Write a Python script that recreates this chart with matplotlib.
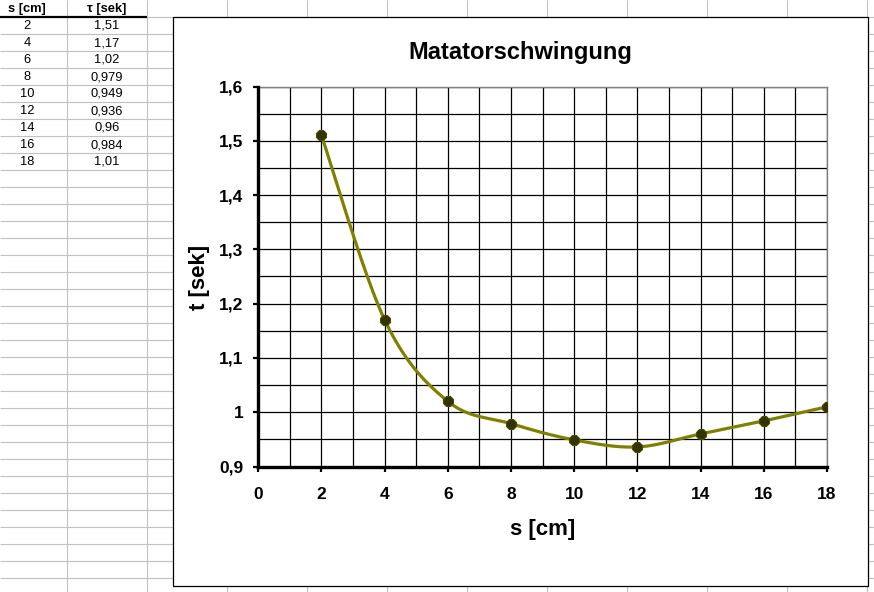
import numpy as np
import matplotlib
matplotlib.use("Agg")
import matplotlib.pyplot as plt
from matplotlib.patches import Rectangle

plt.rcParams['font.family'] = ['Liberation Sans', 'DejaVu Sans']

# measured values (table in the sheet)
s_cm = [2, 4, 6, 8, 10, 12, 14, 16, 18]
tau_sek = [1.51, 1.17, 1.02, 0.979, 0.949, 0.936, 0.96, 0.984, 1.01]
col_headers = ["s [cm]", "τ [sek]"]

title = "Matatorschwingung"
x_label = "s [cm]"
y_label = "t [sek]"
x_ticks = np.arange(0, 19, 2)
y_ticks = np.arange(0.9, 1.601, 0.1)

W, H = 874, 592
ROW_H = 17
GRID_C = "#c0c0c0"


def de(v):
    # German decimal comma
    return f"{v:g}".replace(".", ",")


def smooth(x, y, n=40):
    # Excel-like smoothed line: Catmull-Rom segments as cubic Bezier
    p = np.column_stack([x, y]).astype(float)
    ext = np.vstack([p[0], p, p[-1]])
    t = np.linspace(0, 1, n)[:, None]
    out = []
    for i in range(len(p) - 1):
        p0, p1 = ext[i + 1], ext[i + 2]
        c1 = p0 + (ext[i + 2] - ext[i]) / 6
        c2 = p1 - (ext[i + 3] - ext[i + 1]) / 6
        b = ((1 - t) ** 3) * p0 + 3 * ((1 - t) ** 2) * t * c1 + 3 * (1 - t) * t ** 2 * c2 + t ** 3 * p1
        out.append(b if i == 0 else b[1:])
    out = np.vstack(out)
    return out[:, 0], out[:, 1]


fig = plt.figure(figsize=(W / 100, H / 100), dpi=100)

# spreadsheet background
bg = fig.add_axes([0, 0, 1, 1])
bg.set_xlim(0, W)
bg.set_ylim(H, 0)
bg.axis("off")
bg.vlines(np.arange(67, W, 80), 0, H, color=GRID_C, lw=0.8)
bg.hlines(np.arange(ROW_H, H, ROW_H), 0, W, color=GRID_C, lw=0.8)
bg.hlines(ROW_H, 0, 147, color="black", lw=1.6)

col_x = [27, 107]
for cx, head in zip(col_x, col_headers):
    bg.text(cx, ROW_H / 2 + 0.5, head, ha="center", va="center", fontsize=9.3, fontweight="bold")
for i, (sv, tv) in enumerate(zip(s_cm, tau_sek)):
    yc = ROW_H * (i + 1) + ROW_H / 2 + 0.5
    bg.text(col_x[0], yc, str(sv), ha="center", va="center", fontsize=9.3)
    bg.text(col_x[1], yc, de(tv), ha="center", va="center", fontsize=9.3)

# chart frame
bg.add_patch(Rectangle((173, 17), 695, 569, facecolor="white", edgecolor="black", lw=0.9, zorder=5))

# plot area
l, r, t_, b_ = 258.3, 827, 86.5, 466.5
ax = fig.add_axes([l / W, 1 - b_ / H, (r - l) / W, (b_ - t_) / H])
ax.set_xlim(0, 18)
ax.set_ylim(0.9, 1.6)
ax.set_xticks(x_ticks)
ax.set_xticks(np.arange(0, 19, 1), minor=True)
ax.set_yticks(y_ticks)
ax.set_yticks(np.arange(0.9, 1.601, 0.05), minor=True)
ax.set_xticklabels([str(v) for v in x_ticks])
ax.set_yticklabels([de(round(v, 1)) for v in y_ticks])
ax.grid(which="both", color="black", lw=0.9)
ax.set_axisbelow(True)
ax.tick_params(which="major", direction="out", length=3.8, width=1.6, labelsize=12.5, color="black")
ax.tick_params(axis="x", which="major", pad=11)
ax.tick_params(axis="y", which="major", pad=7)
ax.tick_params(which="minor", length=0)
for lab in ax.get_xticklabels() + ax.get_yticklabels():
    lab.set_fontweight("bold")
for side in ["top", "right"]:
    ax.spines[side].set_color("#808080")
    ax.spines[side].set_linewidth(1.0)
    ax.spines[side].set_zorder(3)
for side in ["left", "bottom"]:
    ax.spines[side].set_color("black")
    ax.spines[side].set_linewidth(2.4)
    ax.spines[side].set_zorder(4)

xs, ys = smooth(s_cm, tau_sek)
ax.plot(xs, ys, color="#808000", lw=2.3, zorder=5, solid_capstyle="round")
ax.plot(s_cm, tau_sek, ls="none", marker="8", ms=7.5, mfc="#333300", mec="#4d4d00", mew=0.8, zorder=6)

fig.text(520.5 / W, 1 - 53 / H, title, ha="center", va="center", fontsize=17, fontweight="bold")
fig.text(542.5 / W, 1 - 529 / H, x_label, ha="center", va="center", fontsize=16, fontweight="bold")
fig.text(200 / W, 1 - 277 / H, y_label, ha="center", va="center", fontsize=16, fontweight="bold", rotation=90)

fig.savefig("out.png", dpi=100)
